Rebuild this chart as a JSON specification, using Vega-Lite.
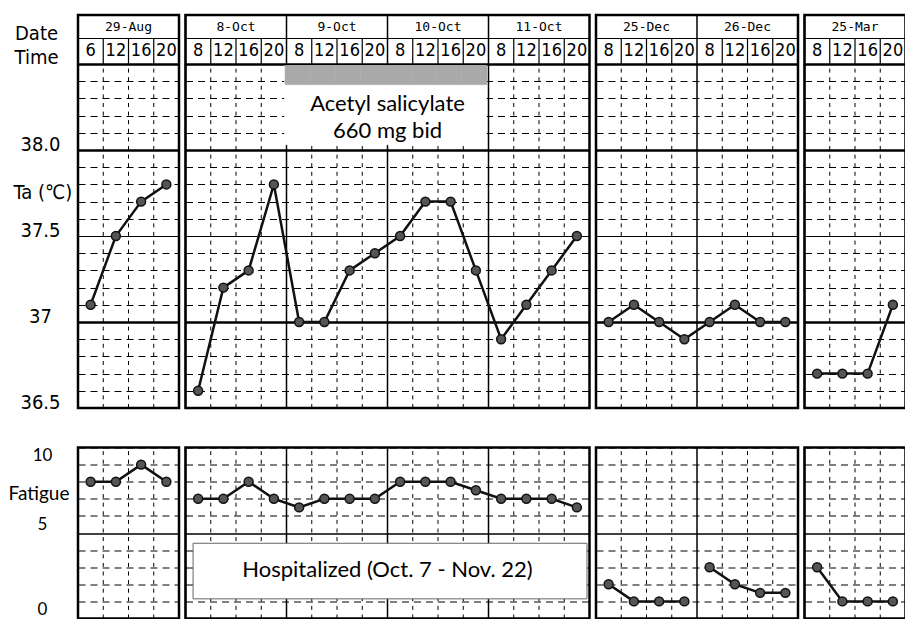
{
  "$schema": "https://vega.github.io/schema/vega-lite/v6.json",
  "background": "white",
  "padding": {"left": 8, "top": 13, "right": 0, "bottom": 0},
  "config": {
    "view": {"stroke": "black", "strokeWidth": 2.5},
    "axis": {"domain": false, "ticks": false, "tickSize": 0, "labelColor": "black", "titleColor": "black", "labelOverlap": false, "labelFlush": false}
  },
  "datasets": {
    "d": [
      {"kind": "slot", "g": "A", "i": 0, "day": "29-Aug", "time": "6", "ta": 37.1, "fat": 8, "run": "A"},
      {"kind": "slot", "g": "A", "i": 1, "day": "29-Aug", "time": "12", "ta": 37.5, "fat": 8, "run": "A"},
      {"kind": "slot", "g": "A", "i": 2, "day": "29-Aug", "time": "16", "ta": 37.7, "fat": 9, "run": "A"},
      {"kind": "slot", "g": "A", "i": 3, "day": "29-Aug", "time": "20", "ta": 37.8, "fat": 8, "run": "A"},
      {"kind": "slot", "g": "B", "i": 4, "day": "8-Oct", "time": "8", "ta": 36.6, "fat": 7, "run": "B"},
      {"kind": "slot", "g": "B", "i": 5, "day": "8-Oct", "time": "12", "ta": 37.2, "fat": 7, "run": "B"},
      {"kind": "slot", "g": "B", "i": 6, "day": "8-Oct", "time": "16", "ta": 37.3, "fat": 8, "run": "B"},
      {"kind": "slot", "g": "B", "i": 7, "day": "8-Oct", "time": "20", "ta": 37.8, "fat": 7, "run": "B"},
      {"kind": "slot", "g": "B", "i": 8, "day": "9-Oct", "time": "8", "ta": 37.0, "fat": 6.5, "run": "B", "drug": true},
      {"kind": "slot", "g": "B", "i": 9, "day": "9-Oct", "time": "12", "ta": 37.0, "fat": 7, "run": "B", "drug": true},
      {"kind": "slot", "g": "B", "i": 10, "day": "9-Oct", "time": "16", "ta": 37.3, "fat": 7, "run": "B", "drug": true},
      {"kind": "slot", "g": "B", "i": 11, "day": "9-Oct", "time": "20", "ta": 37.4, "fat": 7, "run": "B", "drug": true},
      {"kind": "slot", "g": "B", "i": 12, "day": "10-Oct", "time": "8", "ta": 37.5, "fat": 8, "run": "B", "drug": true},
      {"kind": "slot", "g": "B", "i": 13, "day": "10-Oct", "time": "12", "ta": 37.7, "fat": 8, "run": "B", "drug": true},
      {"kind": "slot", "g": "B", "i": 14, "day": "10-Oct", "time": "16", "ta": 37.7, "fat": 8, "run": "B", "drug": true},
      {"kind": "slot", "g": "B", "i": 15, "day": "10-Oct", "time": "20", "ta": 37.3, "fat": 7.5, "run": "B", "drug": true},
      {"kind": "slot", "g": "B", "i": 16, "day": "11-Oct", "time": "8", "ta": 36.9, "fat": 7, "run": "B"},
      {"kind": "slot", "g": "B", "i": 17, "day": "11-Oct", "time": "12", "ta": 37.1, "fat": 7, "run": "B"},
      {"kind": "slot", "g": "B", "i": 18, "day": "11-Oct", "time": "16", "ta": 37.3, "fat": 7, "run": "B"},
      {"kind": "slot", "g": "B", "i": 19, "day": "11-Oct", "time": "20", "ta": 37.5, "fat": 6.5, "run": "B"},
      {"kind": "slot", "g": "C", "i": 20, "day": "25-Dec", "time": "8", "ta": 37.0, "fat": 2, "run": "C1"},
      {"kind": "slot", "g": "C", "i": 21, "day": "25-Dec", "time": "12", "ta": 37.1, "fat": 1, "run": "C1"},
      {"kind": "slot", "g": "C", "i": 22, "day": "25-Dec", "time": "16", "ta": 37.0, "fat": 1, "run": "C1"},
      {"kind": "slot", "g": "C", "i": 23, "day": "25-Dec", "time": "20", "ta": 36.9, "fat": 1, "run": "C1"},
      {"kind": "slot", "g": "C", "i": 24, "day": "26-Dec", "time": "8", "ta": 37.0, "fat": 3, "run": "C2"},
      {"kind": "slot", "g": "C", "i": 25, "day": "26-Dec", "time": "12", "ta": 37.1, "fat": 2, "run": "C2"},
      {"kind": "slot", "g": "C", "i": 26, "day": "26-Dec", "time": "16", "ta": 37.0, "fat": 1.5, "run": "C2"},
      {"kind": "slot", "g": "C", "i": 27, "day": "26-Dec", "time": "20", "ta": 37.0, "fat": 1.5, "run": "C2"},
      {"kind": "slot", "g": "D", "i": 28, "day": "25-Mar", "time": "8", "ta": 36.7, "fat": 3, "run": "D"},
      {"kind": "slot", "g": "D", "i": 29, "day": "25-Mar", "time": "12", "ta": 36.7, "fat": 1, "run": "D"},
      {"kind": "slot", "g": "D", "i": 30, "day": "25-Mar", "time": "16", "ta": 36.7, "fat": 1, "run": "D"},
      {"kind": "slot", "g": "D", "i": 31, "day": "25-Mar", "time": "20", "ta": 37.1, "fat": 1, "run": "D"},
      {"kind": "drug", "g": "B", "i": 12, "label": ["Acetyl salicylate", "660 mg bid"]},
      {"kind": "hospbox", "g": "B", "i": 4, "i2": 19},
      {"kind": "hosp", "g": "B", "i": 12, "label": "Hospitalized (Oct. 7 - Nov. 22)"}
    ]
  },
  "spacing": 33.5,
  "vconcat": [
    {
      "data": {"name": "d"},
      "facet": {"column": {"field": "g", "type": "nominal", "header": null}},
      "spacing": 2.5,
      "resolve": {"scale": {"x": "independent"}},
      "spec": {
        "width": {"step": 25.25},
        "height": 393,
        "layer": [
          {
            "transform": [{"filter": "datum.kind == 'slot' && datum.i % 4 != 0"}],
            "mark": {"type": "rule", "color": "black", "strokeWidth": 1, "strokeDash": [4, 4.6]},
            "encoding": {
              "x": {"field": "i", "type": "ordinal", "bandPosition": 0, "axis": null, "scale": {"paddingInner": 0, "paddingOuter": 0}},
              "y": {
                "datum": 36.5, "type": "quantitative",
                "scale": {"domain": [36.5, 38.785], "nice": false, "zero": false},
                "axis": {
                  "values": [36.5, 36.6, 36.7, 36.8, 36.9, 37, 37.1, 37.2, 37.3, 37.4, 37.5, 37.6, 37.7, 37.8, 37.9, 38, 38.1, 38.2, 38.3, 38.4, 38.5, 38.54, 38.65, 38.675],
                  "tickCount": 200,
                  "labelExpr": "datum.value == 38 ? '38.0' : datum.value == 37.5 ? '37.5' : datum.value == 37 ? '37' : datum.value == 36.5 ? '36.5' : datum.value == 38.54 ? 'Time' : datum.value == 38.675 ? 'Date' : ''",
                  "labelFont": "Liberation Sans Narrow, DejaVu Sans Condensed, sans-serif",
                  "labelFontSize": 20,
                  "labelAlign": "center",
                  "labelPadding": {"condition": {"test": "datum.value > 38.5", "value": 40}, "value": 36},
                  "labelBaseline": {"condition": {"test": "datum.value > 38.5", "value": "middle"}, "value": "alphabetic"},
                  "grid": true,
                  "gridColor": "black",
                  "gridDash": {"condition": {"test": "datum.value == 37 || datum.value == 37.5 || datum.value == 38 || datum.value == 38.5 || datum.value == 38.65", "value": []}, "value": [7, 5]},
                  "gridWidth": {"condition": {"test": "datum.value == 37 || datum.value == 38 || datum.value == 38.5", "value": 2.5}, "value": 1},
                  "gridOpacity": {"condition": {"test": "datum.value == 38.54 || datum.value == 38.675", "value": 0}, "value": 1},
                  "title": "Ta (℃)",
                  "titleAngle": 0,
                  "titleAlign": "left",
                  "titleBaseline": "alphabetic",
                  "titleX": -63,
                  "titleY": 183,
                  "titleFont": "Liberation Sans Narrow, DejaVu Sans Condensed, sans-serif",
                  "titleFontSize": 20,
                  "titleFontWeight": "normal"
                }
              },
              "y2": {"datum": 38.5}
            }
          },
          {
            "transform": [{"filter": "datum.kind == 'slot' && datum.i % 4 != 0"}],
            "mark": {"type": "rule", "color": "black", "strokeWidth": 1.2},
            "encoding": {
              "x": {"field": "i", "type": "ordinal", "bandPosition": 0, "axis": null},
              "y": {"datum": 38.5, "type": "quantitative"},
              "y2": {"datum": 38.65}
            }
          },
          {
            "transform": [{"filter": "datum.kind == 'slot' && datum.i % 4 == 0"}],
            "mark": {"type": "rule", "color": "black", "strokeWidth": 1.5},
            "encoding": {
              "x": {"field": "i", "type": "ordinal", "bandPosition": 0, "axis": null},
              "y": {"datum": 36.5, "type": "quantitative"},
              "y2": {"datum": 38.785}
            }
          },
          {
            "transform": [{"filter": "datum.drug == true"}],
            "mark": {"type": "rect", "fill": "white", "stroke": "white", "strokeWidth": 0.5, "xOffset": -2, "x2Offset": -2},
            "encoding": {
              "x": {"field": "i", "type": "ordinal", "axis": null},
              "y": {"datum": 38.03, "type": "quantitative"},
              "y2": {"datum": 38.49}
            }
          },
          {
            "transform": [{"filter": "datum.drug == true"}],
            "mark": {"type": "rect", "fill": "#a9a9a9", "stroke": "#a9a9a9", "strokeWidth": 0.5, "xOffset": -1.5, "x2Offset": -1.5},
            "encoding": {
              "x": {"field": "i", "type": "ordinal", "axis": null},
              "y": {"datum": 38.38, "type": "quantitative"},
              "y2": {"datum": 38.49}
            }
          },
          {
            "transform": [{"filter": "datum.kind == 'drug'"}],
            "mark": {"type": "text", "font": "Lato", "fontSize": 22, "lineHeight": 27, "baseline": "middle", "align": "center", "color": "black"},
            "encoding": {
              "x": {"field": "i", "type": "ordinal", "bandPosition": 0, "axis": null},
              "y": {"datum": 38.27, "type": "quantitative"},
              "text": {"field": "label"}
            }
          },
          {
            "transform": [{"filter": "datum.kind == 'slot'"}],
            "mark": {"type": "text", "font": "Liberation Sans Narrow, DejaVu Sans Condensed, sans-serif", "fontSize": 18, "baseline": "middle", "align": "center", "color": "black"},
            "encoding": {
              "x": {"field": "i", "type": "ordinal", "axis": null},
              "y": {"datum": 38.576, "type": "quantitative"},
              "text": {"field": "time"}
            }
          },
          {
            "transform": [{"filter": "datum.kind == 'slot' && datum.i % 4 == 2"}],
            "mark": {"type": "text", "font": "DejaVu Sans Mono", "fontSize": 13, "baseline": "middle", "align": "center", "color": "black"},
            "encoding": {
              "x": {"field": "i", "type": "ordinal", "bandPosition": 0, "axis": null},
              "y": {"datum": 38.718, "type": "quantitative"},
              "text": {"field": "day"}
            }
          },
          {
            "transform": [{"filter": "datum.kind == 'slot'"}],
            "mark": {"type": "line", "color": "#111", "strokeWidth": 2.5},
            "encoding": {
              "x": {"field": "i", "type": "ordinal", "axis": null},
              "y": {"field": "ta", "type": "quantitative"}
            }
          },
          {
            "transform": [{"filter": "datum.kind == 'slot'"}],
            "mark": {"type": "point", "shape": "circle", "size": 80, "filled": true, "fill": "#555", "stroke": "#111", "strokeWidth": 1.5, "opacity": 1},
            "encoding": {
              "x": {"field": "i", "type": "ordinal", "axis": null},
              "y": {"field": "ta", "type": "quantitative"}
            }
          }
        ]
      }
    },
    {
      "data": {"name": "d"},
      "facet": {"column": {"field": "g", "type": "nominal", "header": null}},
      "spacing": 2.5,
      "resolve": {"scale": {"x": "independent"}},
      "spec": {
        "width": {"step": 25.25},
        "height": 171,
        "layer": [
          {
            "transform": [{"filter": "datum.kind == 'slot' && datum.i % 4 != 0"}],
            "mark": {"type": "rule", "color": "black", "strokeWidth": 1, "strokeDash": [4, 4.6]},
            "encoding": {
              "x": {"field": "i", "type": "ordinal", "bandPosition": 0, "axis": null, "scale": {"paddingInner": 0, "paddingOuter": 0}},
              "y": {
                "datum": 0, "type": "quantitative",
                "scale": {"domain": [0, 10], "nice": false, "zero": false},
                "axis": {
                  "values": [0, 1, 2, 3, 4, 5, 6, 7, 8, 9, 10],
                  "tickCount": 200,
                  "labelExpr": "datum.value == 10 ? '10' : datum.value == 5 ? '5' : datum.value == 0 ? '0' : ''",
                  "labelFont": "Lato",
                  "labelFontSize": 17,
                  "labelAlign": "center",
                  "labelPadding": 34,
                  "labelBaseline": {"condition": {"test": "datum.value == 10", "value": "top"}, "value": "bottom"},
                  "grid": true,
                  "gridColor": "black",
                  "gridDash": {"condition": {"test": "datum.value == 5", "value": []}, "value": [7, 5]},
                  "gridWidth": {"condition": {"test": "datum.value == 5", "value": 1.5}, "value": 1},
                  "title": "Fatigue",
                  "titleAngle": 0,
                  "titleAlign": "left",
                  "titleBaseline": "alphabetic",
                  "titleX": -68,
                  "titleY": 52,
                  "titleFont": "Lato",
                  "titleFontSize": 19,
                  "titleFontWeight": "normal"
                }
              },
              "y2": {"datum": 10}
            }
          },
          {
            "transform": [{"filter": "datum.kind == 'slot' && datum.i % 4 == 0"}],
            "mark": {"type": "rule", "color": "black", "strokeWidth": 1.5},
            "encoding": {
              "x": {"field": "i", "type": "ordinal", "bandPosition": 0, "axis": null},
              "y": {"datum": 0, "type": "quantitative"},
              "y2": {"datum": 10}
            }
          },
          {
            "transform": [{"filter": "datum.kind == 'hospbox'"}],
            "mark": {"type": "rect", "fill": "white", "stroke": "#666", "strokeWidth": 1},
            "encoding": {
              "x": {"field": "i", "type": "ordinal", "bandPosition": 0.3, "axis": null},
              "x2": {"field": "i2", "bandPosition": 0.9},
              "y": {"datum": 4.4, "type": "quantitative"},
              "y2": {"datum": 1.15}
            }
          },
          {
            "transform": [{"filter": "datum.kind == 'hosp'"}],
            "mark": {"type": "text", "font": "Lato", "fontSize": 22, "baseline": "middle", "align": "center", "color": "black"},
            "encoding": {
              "x": {"field": "i", "type": "ordinal", "bandPosition": 0, "axis": null},
              "y": {"datum": 2.85, "type": "quantitative"},
              "text": {"field": "label"}
            }
          },
          {
            "transform": [{"filter": "datum.kind == 'slot'"}],
            "mark": {"type": "line", "color": "#111", "strokeWidth": 2.5},
            "encoding": {
              "x": {"field": "i", "type": "ordinal", "axis": null},
              "y": {"field": "fat", "type": "quantitative"},
              "detail": {"field": "run"}
            }
          },
          {
            "transform": [{"filter": "datum.kind == 'slot'"}],
            "mark": {"type": "point", "shape": "circle", "size": 80, "filled": true, "fill": "#555", "stroke": "#111", "strokeWidth": 1.5, "opacity": 1},
            "encoding": {
              "x": {"field": "i", "type": "ordinal", "axis": null},
              "y": {"field": "fat", "type": "quantitative"}
            }
          }
        ]
      }
    }
  ]
}
